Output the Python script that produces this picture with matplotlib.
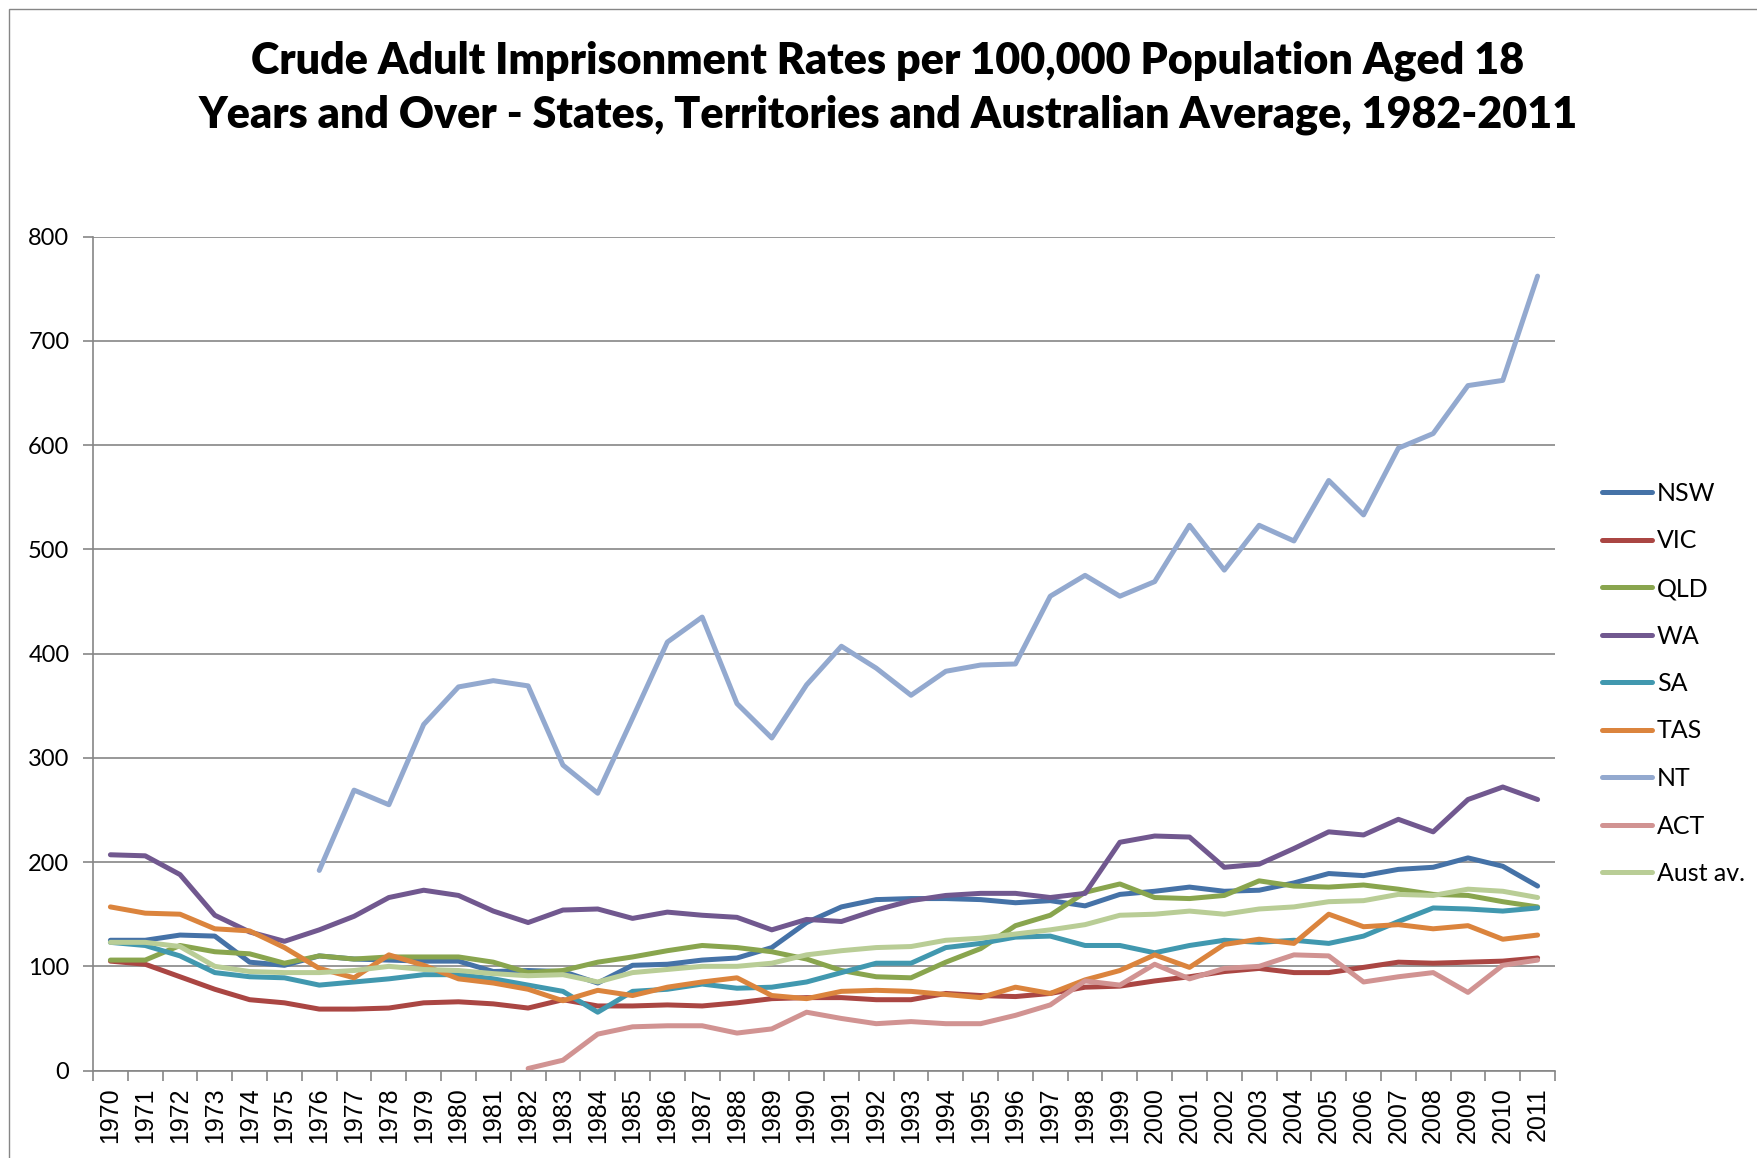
import numpy as np
import matplotlib
matplotlib.use("Agg")
import matplotlib.pyplot as plt
from matplotlib.patches import Rectangle

years = list(range(1970, 2012))
N = None
NSW = [125, 125, 130, 129, 104, 101, 110, 107, 106, 105, 105, 95, 96, 95, 84, 101,
       102, 106, 108, 118, 142, 157, 164, 165, 165, 164, 161, 163, 158, 169, 172, 176,
       172, 173, 180, 189, 187, 193, 195, 204, 196, 177]
VIC = [105, 102, 90, 78, 68, 65, 59, 59, 60, 65, 66, 64, 60, 68, 62, 62,
       63, 62, 65, 69, 70, 70, 68, 68, 74, 72, 71, 74, 80, 81, 86, 90,
       95, 98, 94, 94, 99, 104, 103, 104, 105, 108]
QLD = [106, 106, 120, 114, 112, 103, 110, 107, 109, 109, 109, 104, 94, 96, 104, 109,
       115, 120, 118, 114, 107, 96, 90, 89, 104, 117, 139, 149, 171, 179, 166, 165,
       168, 182, 177, 176, 178, 174, 169, 168, 162, 157]
WA = [207, 206, 188, 149, 133, 124, 135, 148, 166, 173, 168, 153, 142, 154, 155, 146,
      152, 149, 147, 135, 145, 143, 154, 163, 168, 170, 170, 166, 170, 219, 225, 224,
      195, 198, 213, 229, 226, 241, 229, 260, 272, 260]
SA = [123, 120, 110, 94, 90, 89, 82, 85, 88, 92, 92, 88, 82, 76, 56, 76,
      78, 83, 79, 80, 85, 94, 103, 103, 118, 122, 128, 129, 120, 120, 113, 120,
      125, 123, 125, 122, 129, 143, 156, 155, 153, 156]
TAS = [157, 151, 150, 136, 134, 118, 98, 89, 111, 101, 88, 84, 78, 67, 77, 72,
       80, 85, 89, 72, 69, 76, 77, 76, 73, 70, 80, 74, 87, 96, 111, 99,
       121, 126, 122, 150, 138, 140, 136, 139, 126, 130]
NT = [N, N, N, N, N, N, 192, 269, 255, 332, 368, 374, 369, 293, 266, 338,
      411, 435, 352, 319, 370, 407, 386, 360, 383, 389, 390, 455, 475, 455, 469, 523,
      480, 523, 508, 566, 533, 597, 611, 657, 662, 762]
ACT = [N, N, N, N, N, N, N, N, N, N, N, N, 2, 10, 35, 42,
       43, 43, 36, 40, 56, 50, 45, 47, 45, 45, 53, 63, 86, 82, 102, 88,
       98, 100, 111, 110, 85, 90, 94, 75, 101, 106]
AUS = [123, 123, 119, 100, 95, 94, 94, 96, 100, 97, 96, 93, 91, 92, 85, 94,
       97, 100, 100, 103, 111, 115, 118, 119, 125, 127, 131, 135, 140, 149, 150, 153,
       150, 155, 157, 162, 163, 169, 168, 174, 172, 166]

series_names = ["NSW", "VIC", "QLD", "WA", "SA", "TAS", "NT", "ACT", "Aust av."]
series_values = [NSW, VIC, QLD, WA, SA, TAS, NT, ACT, AUS]
colors = ["#4572A7", "#AA4643", "#89A54E", "#71588F", "#4198AF",
          "#DB843D", "#93A9CF", "#D19392", "#B9CD96"]

title = ("Crude Adult Imprisonment Rates per 100,000 Population Aged 18\n"
         "Years and Over - States, Territories and Australian Average, 1982-2011")

W, H = 1758, 1158
fig = plt.figure(figsize=(W / 100, H / 100), dpi=100)
fig.patch.set_facecolor("white")
fig.patches.append(Rectangle((9 / W, -0.1), 1.2, (H - 9) / H + 0.1, transform=fig.transFigure,
                             fill=False, edgecolor="#868686", linewidth=1.0))

ax = fig.add_axes([93 / W, 1 - 1070.6 / H, (1555 - 93) / W, (1070.6 - 236.5) / H])
x = np.arange(len(years))
for name, vals, c in zip(series_names, series_values, colors):
    y = np.array([np.nan if v is None else v for v in vals], dtype=float)
    ax.plot(x, y, color=c, lw=3.6, label=name, solid_capstyle="round",
            solid_joinstyle="round")

ax.set_xlim(-0.5, len(years) - 0.5)
ax.set_ylim(0, 800)
ax.set_yticks(np.arange(0, 801, 100))
ax.yaxis.grid(True, color="#868686", lw=1.2)
ax.set_axisbelow(True)
for s in ["top", "right"]:
    ax.spines[s].set_visible(False)
for s in ["left", "bottom"]:
    ax.spines[s].set_color("#868686")
    ax.spines[s].set_linewidth(1.2)

ax.set_xticks(x)
ax.set_xticklabels([str(yv) for yv in years], rotation=90,
                   fontfamily="Liberation Sans", fontsize=18)
ax.set_xticks(np.arange(-0.5, len(years), 1), minor=True)
ax.tick_params(axis="x", which="major", length=0, pad=12)
ax.tick_params(axis="x", which="minor", length=7, color="#868686", width=1.2)
ax.tick_params(axis="y", length=7, color="#868686", width=1.2, pad=10)
for lab in ax.get_yticklabels():
    lab.set_fontfamily("Lato")
    lab.set_fontsize(17)

fig.text(888 / W, 1 - 88 / H, title, ha="center", va="center", fontfamily="Lato",
         fontweight="heavy", fontsize=31, linespacing=1.4)

leg = ax.legend(loc="upper left", bbox_to_anchor=(1592 / W, 1 - 472 / H),
                bbox_transform=fig.transFigure, frameon=False,
                prop={"family": "Lato", "size": 18}, handlelength=2.0,
                handletextpad=0.2, labelspacing=0.98, borderaxespad=0)
for h in leg.get_lines():
    h.set_linewidth(3.6)

fig.savefig("out.png", dpi=100, facecolor="white")
